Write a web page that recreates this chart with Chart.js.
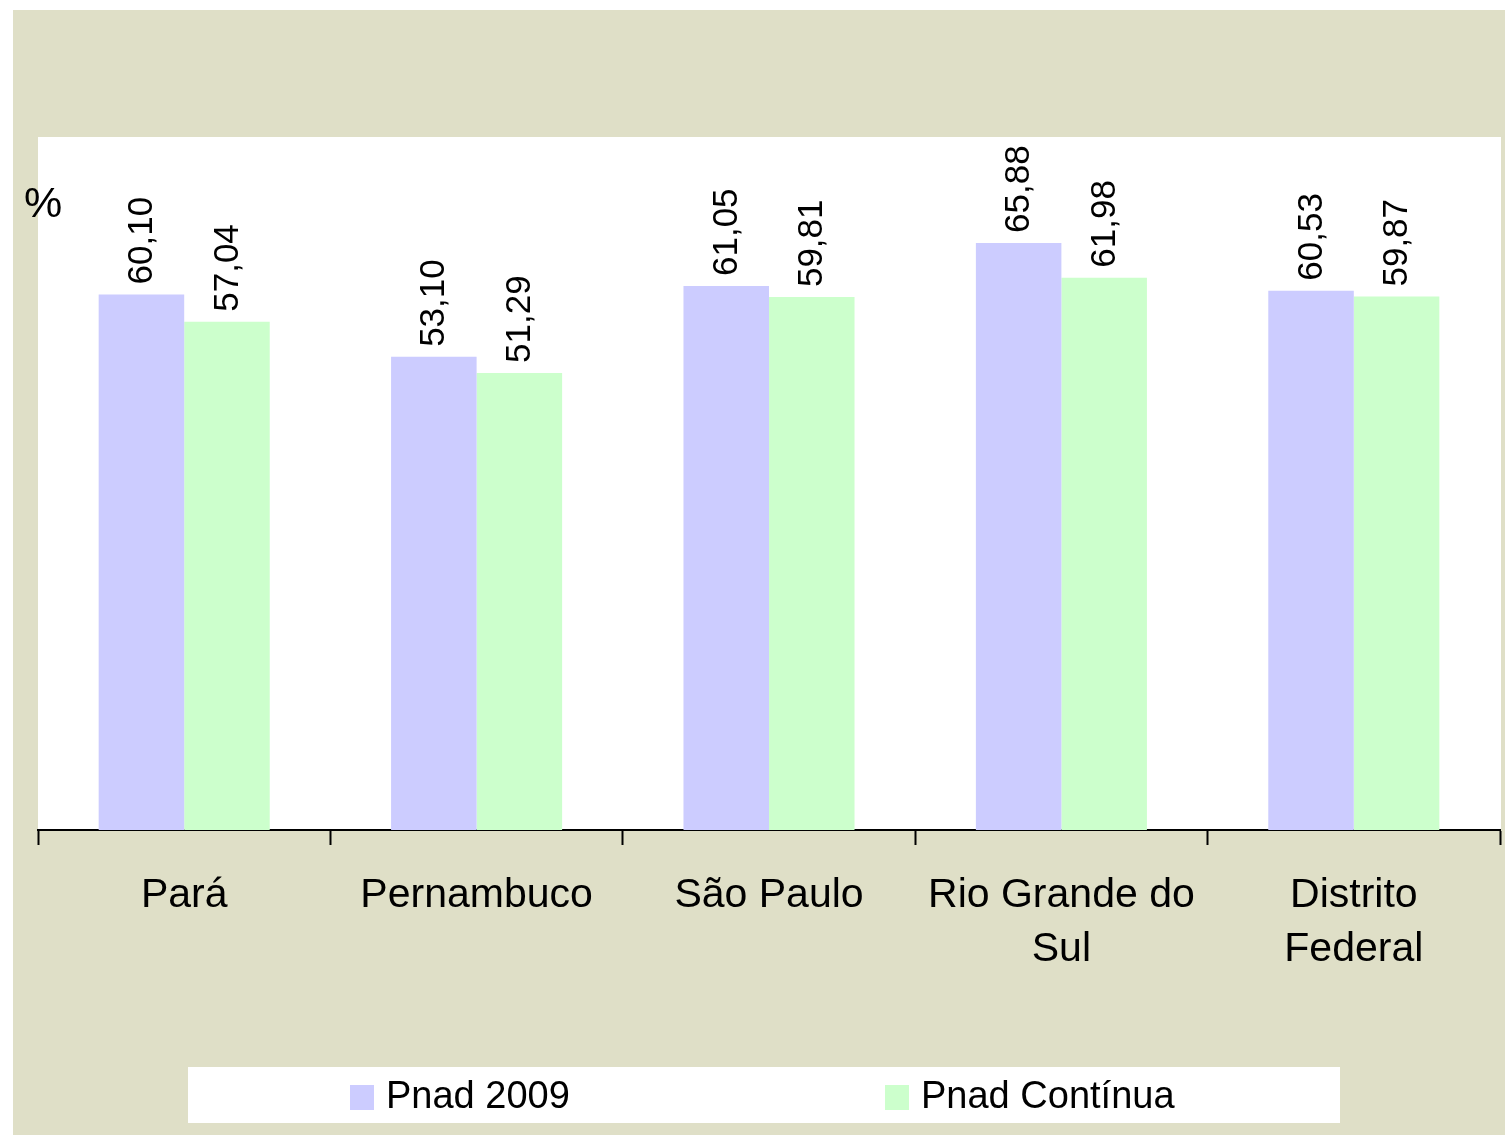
<!DOCTYPE html>
<html>
<head>
<meta charset="utf-8">
<script src="https://cdn.jsdelivr.net/npm/chart.js@4.4.1/dist/chart.umd.min.js"></script>
<style>
  body { margin: 0; background: #ffffff; }
  #wrap { width: 1505px; height: 1135px; }
</style>
</head>
<body>
<div id="wrap"><canvas id="chart" width="1505" height="1135"></canvas></div>
<script>
const categories = ['Pará', 'Pernambuco', 'São Paulo', ['Rio Grande do', 'Sul'], ['Distrito', 'Federal']];
const pnad2009 = [60.10, 53.10, 61.05, 65.88, 60.53];
const pnadContinua = [57.04, 51.29, 59.81, 61.98, 59.87];
const seriesNames = ['Pnad 2009', 'Pnad Contínua'];

const FONT = "'Liberation Sans', Arial, sans-serif";
const BEIGE = '#DFDFC7';

// backgrounds, % label, value labels and legend
const decor = {
    id: 'decor',
    beforeDraw(chart) {
        const ctx = chart.ctx;
        const a = chart.chartArea;
        ctx.save();
        ctx.fillStyle = BEIGE;
        ctx.fillRect(13, 10, chart.width - 13, chart.height - 10);
        ctx.fillStyle = '#ffffff';
        ctx.fillRect(a.left, 137, a.right - a.left + 1, a.bottom - 137);
        ctx.restore();
    },
    afterDraw(chart) {
        const ctx = chart.ctx;
        ctx.save();
        ctx.fillStyle = '#000000';

        // unit label
        ctx.font = '43px ' + FONT;
        ctx.textAlign = 'left';
        ctx.textBaseline = 'middle';
        ctx.fillText('%', 24, 205);

        // rotated value labels
        ctx.font = '35px ' + FONT;
        chart.data.datasets.forEach((ds, i) => {
            chart.getDatasetMeta(i).data.forEach((bar, j) => {
                const txt = ds.data[j].toFixed(2).replace('.', ',');
                ctx.save();
                ctx.translate(bar.x + 1, bar.y - 10);
                ctx.rotate(-Math.PI / 2);
                ctx.textAlign = 'left';
                ctx.textBaseline = 'middle';
                ctx.fillText(txt, 0, 0);
                ctx.restore();
            });
        });

        // legend
        ctx.fillStyle = '#ffffff';
        ctx.fillRect(188, 1067, 1152, 56);
        const itemX = [350, 885];
        ctx.font = '38px ' + FONT;
        ctx.textBaseline = 'middle';
        chart.data.datasets.forEach((ds, i) => {
            ctx.fillStyle = ds.backgroundColor;
            ctx.fillRect(itemX[i], 1085, 24, 25);
            ctx.fillStyle = '#000000';
            ctx.fillText(ds.label, itemX[i] + 36, 1098);
        });
        ctx.restore();
    }
};

new Chart(document.getElementById('chart'), {
    type: 'bar',
    data: {
        labels: categories,
        datasets: [
            { label: seriesNames[0], data: pnad2009, backgroundColor: '#CCCCFF' },
            { label: seriesNames[1], data: pnadContinua, backgroundColor: '#CCFFCC' }
        ]
    },
    options: {
        responsive: false,
        animation: false,
        categoryPercentage: 0.585,
        barPercentage: 1,
        layout: { padding: { left: 38, right: 5, top: 135, bottom: 0 } },
        scales: {
            x: {
                grid: {
                    display: true,
                    offset: true,
                    drawOnChartArea: false,
                    drawTicks: true,
                    tickLength: 15,
                    tickColor: '#000000',
                    tickWidth: 2
                },
                border: { display: true, color: '#000000', width: 2 },
                ticks: {
                    color: '#000000',
                    font: { family: FONT, size: 41, lineHeight: 1.32 },
                    padding: 24,
                    maxRotation: 0,
                    autoSkip: false
                },
                afterFit(scale) { scale.height = 305; }
            },
            y: {
                display: false,
                min: 0,
                max: 78
            }
        },
        plugins: {
            legend: { display: false },
            tooltip: { enabled: false }
        }
    },
    plugins: [decor]
});
</script>
</body>
</html>
